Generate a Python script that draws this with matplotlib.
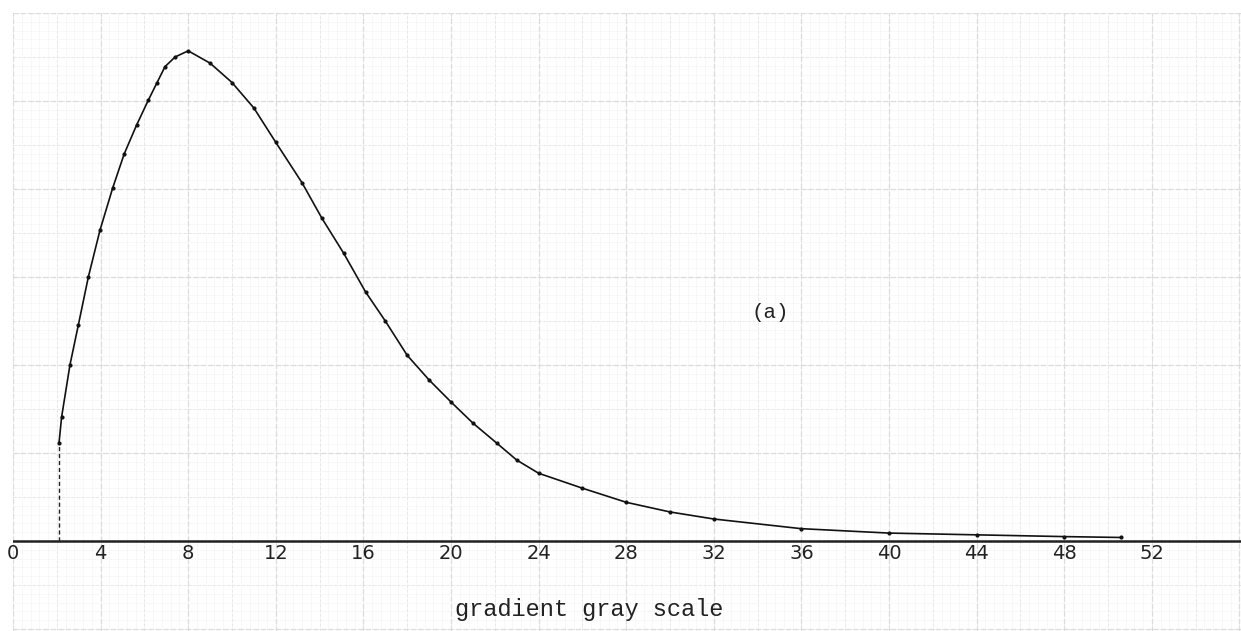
import numpy as np
import matplotlib
matplotlib.use("Agg")
import matplotlib.pyplot as plt

# values (y in major graph-paper squares)
gray = [2.1, 2.22, 2.6, 2.98, 3.44, 3.97, 4.55, 5.08, 5.65, 6.18, 6.56,
        6.94, 7.4, 8.0, 9.0, 10.0, 11.0, 12.0, 13.2, 14.1, 15.1, 16.1,
        17.0, 18.0, 19.0, 20.0, 21.0, 22.1, 23.0, 24.0, 26.0, 28.0, 30.0,
        32.0, 36.0, 40.0, 44.0, 48.0, 50.6]
freq = [1.11, 1.41, 2.00, 2.45, 3.00, 3.53, 4.01, 4.40, 4.73, 5.01, 5.20,
        5.39, 5.50, 5.57, 5.43, 5.21, 4.92, 4.53, 4.07, 3.67, 3.27, 2.83,
        2.50, 2.11, 1.83, 1.58, 1.34, 1.11, 0.92, 0.77, 0.60, 0.44, 0.33,
        0.25, 0.14, 0.09, 0.07, 0.05, 0.04]
tick_vals = [0, 4, 8, 12, 16, 20, 24, 28, 32, 36, 40, 44, 48, 52]
tick_text = ["0", "4", "8", "12", "16", "20", "24", "28", "32", "36", "40",
             "44", "48", "52"]

fig = plt.figure(figsize=(12.41, 6.31), dpi=100)
fig.patch.set_facecolor("white")
ax = fig.add_axes([13 / 1241, 0, 1 - 13 / 1241, 1 - 13 / 631])
ax.set_xlim(0, (1241 - 13) / 21.9)
ax.set_ylim(-90 / 88, 6.0)
ax.set_axis_off()

# graph paper: fine, half and major rulings
for xv in np.arange(0, 57, 0.4):
    ax.axvline(xv, color="#f5f5f5", lw=0.5, zorder=0)
for yv in np.arange(-1.0, 6.01, 0.1):
    ax.axhline(yv, color="#f5f5f5", lw=0.5, zorder=0)
for xv in np.arange(0, 57, 2):
    ax.axvline(xv, color="#e8e8e8", lw=0.7, ls=(0, (3, 2)), zorder=0)
for yv in np.arange(-1.0, 6.01, 0.5):
    ax.axhline(yv, color="#e8e8e8", lw=0.7, ls=(0, (3, 2)), zorder=0)
for xv in np.arange(0, 57, 4):
    ax.axvline(xv, color="#dcdcdc", lw=0.9, ls=(0, (4, 2)), zorder=0)
for yv in np.arange(-1.0, 6.01, 1.0):
    ax.axhline(yv, color="#dcdcdc", lw=0.9, ls=(0, (4, 2)), zorder=0)

# baseline
ax.axhline(0, color="#222222", lw=1.8, zorder=2)

# the curve
ax.plot(gray, freq, color="#111111", lw=1.2, marker="o", ms=2.0, zorder=3)
ax.plot([gray[0], gray[0]], [0, freq[0]], color="#222222", lw=1.0,
        ls=(0, (3, 2)), zorder=3)

for v, t in zip(tick_vals, tick_text):
    ax.text(v, -0.14, t, ha="center", va="center", fontsize=14,
            family="DejaVu Sans", color="#222222")

ax.text(26.3, -0.78, "gradient gray scale", ha="center", va="center",
        fontsize=17, family="Liberation Mono", color="#222222")
ax.text(34.6, 2.6, "(a)", ha="center", va="center", fontsize=15,
        family="Liberation Mono", color="#222222")

fig.savefig("out.png", dpi=100, facecolor="white")
